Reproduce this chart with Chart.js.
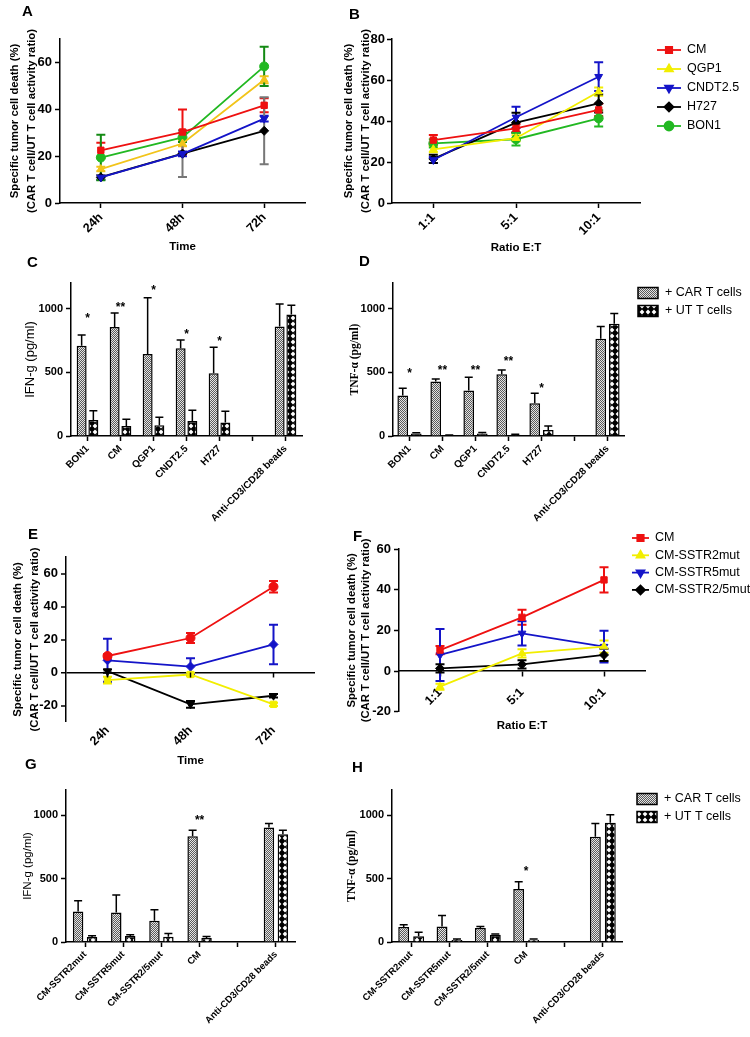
<!DOCTYPE html>
<html lang="en">
<head>
<meta charset="UTF-8">
<title>CAR T cell killing and cytokine release</title>
<script src="https://cdn.jsdelivr.net/npm/chart.js"></script>
<style>
    body { margin: 0; background: #fff; }
    .fig { position: relative; width: 750px; height: 1037px; overflow: hidden; background: #fff; }
    .fig canvas { position: absolute; }
    .tag { position: absolute; font: bold 15px "Liberation Sans", Arial, sans-serif; line-height: 1; color: #000; }
</style>
</head>
<body>
<div class="fig">
    <canvas id="chartA" width="330" height="255" style="left:0px;top:0px"></canvas>
    <canvas id="chartB" width="412" height="255" style="left:338px;top:0px"></canvas>
    <canvas id="chartC" width="290" height="270" style="left:20px;top:255px"></canvas>
    <canvas id="chartD" width="405" height="270" style="left:345px;top:255px"></canvas>
    <canvas id="chartE" width="330" height="245" style="left:0px;top:525px"></canvas>
    <canvas id="chartF" width="412" height="245" style="left:338px;top:525px"></canvas>
    <canvas id="chartG" width="300" height="262" style="left:18px;top:775px"></canvas>
    <canvas id="chartH" width="408" height="262" style="left:342px;top:775px"></canvas>
    <div class="tag" style="left:22px;top:3px">A</div>
    <div class="tag" style="left:349px;top:6px">B</div>
    <div class="tag" style="left:27px;top:254px">C</div>
    <div class="tag" style="left:359px;top:253px">D</div>
    <div class="tag" style="left:28px;top:526px">E</div>
    <div class="tag" style="left:353px;top:528px">F</div>
    <div class="tag" style="left:25px;top:756px">G</div>
    <div class="tag" style="left:352px;top:759px">H</div>
</div>
<script>
    const FONT = '"Liberation Sans", Arial, Helvetica, sans-serif';
    const SERIF = '"Liberation Serif", "Times New Roman", serif';

    // ---- labels and ticks ----
    const timeLabels = ['24h', '48h', '72h'];
    const ratioLabels = ['1:1', '5:1', '10:1'];
    const cellLines = ['BON1', 'CM', 'QGP1', 'CNDT2.5', 'H727', '', 'Anti-CD3/CD28 beads'];
    const mutLines = ['CM-SSTR2mut', 'CM-SSTR5mut', 'CM-SSTR2/5mut', 'CM', '', 'Anti-CD3/CD28 beads'];
    const killTitleText = ['Specific tumor cell death (%)', '(CAR T cell/UT T cell activity ratio)'];
    const ticksA = [0, 20, 40, 60];
    const ticksB = [0, 20, 40, 60, 80];
    const ticksEF = [-20, 0, 20, 40, 60];
    const ticksCyto = [0, 500, 1000];

    // ---- A: killing vs time, per cell line (mean, +/- error) ----
    const aCM = [22.5, 30.3, 41.7],   aCMErr = [3.2, 9.6, 3.0];
    const aQGP1 = [14.5, 25.4, 52.6], aQGP1Err = [1.0, 1.2, 1.5];
    const aCNDT = [10.9, 21.0, 36.0], aCNDTErr = [1.0, 1.0, 1.2];
    const aH727 = [11.0, 21.1, 30.8], aH727Err = [1.0, 10.0, 14.3];
    const aBON1 = [19.4, 28.0, 58.3], aBON1Err = [9.7, 2.0, 8.4];

    // ---- B: killing vs E:T ratio ----
    const bCM = [30.7, 36.4, 45.4],   bCMErr = [2.5, 2.0, 3.0];
    const bQGP1 = [26.2, 31.6, 54.3], bQGP1Err = [1.5, 1.5, 2.0];
    const bCNDT = [21.0, 41.8, 61.6], bCNDTErr = [1.5, 5.2, 7.0];
    const bH727 = [21.5, 39.2, 48.6], bH727Err = [2.0, 4.8, 4.4];
    const bBON1 = [29.1, 31.1, 41.3], bBON1Err = [2.0, 3.0, 4.0];

    // ---- C: IFN-g per cell line ----
    const cIfnCar = [707, 854, 644, 688, 492, null, 858], cIfnCarErr = [86, 110, 440, 64, 204, null, 178];
    const cIfnUt = [126, 79, 84, 118, 105, null, 953],    cIfnUtErr = [73, 52, 63, 84, 89, null, 73];
    const cSig = ['*', '**', '*', '*', '*', '', ''],      cSigAt = [950, 1037, 1170, 827, 770, null, null];

    // ---- D: TNF-a per cell line ----
    const dTnfCar = [317, 427, 356, 484, 257, null, 762], dTnfCarErr = [58, 21, 105, 34, 78, null, 97];
    const dTnfUt = [20, 5, 20, 10, 47, null, 880],        dTnfUtErr = [5, 3, 8, 4, 31, null, 80];
    const dSig = ['*', '**', '**', '**', '*', '', ''],    dSigAt = [518, 545, 545, 610, 400, null, null];

    // ---- E: SSTR mutants vs time ----
    const eCM = [10.0, 20.9, 52.0],      eCMErr = [1.0, 3.0, 3.5];
    const eSSTR2 = [-4.6, -1.2, -19.3],  eSSTR2Err = [2.0, 1.0, 1.0];
    const eSSTR5 = [7.4, 3.6, 17.0],     eSSTR5Err = [13.0, 5.0, 12.0];
    const eSSTR25 = [0.8, -19.3, -14.1], eSSTR25Err = [1.0, 2.0, 1.0];

    // ---- F: SSTR mutants vs E:T ratio ----
    const fCM = [10.3, 26.4, 44.8],     fCMErr = [2.0, 3.7, 6.2];
    const fSSTR2 = [-7.7, 8.7, 12.0],   fSSTR2Err = [1.5, 2.0, 3.0];
    const fSSTR5 = [7.9, 18.5, 12.0],   fSSTR5Err = [12.8, 6.0, 7.8];
    const fSSTR25 = [1.3, 3.3, 7.9],    fSSTR25Err = [2.0, 2.0, 3.0];

    // ---- G: IFN-g, SSTR mutants ----
    const gIfnCar = [241, 233, 168, 835, null, 903], gIfnCarErr = [84, 139, 86, 47, null, 32];
    const gIfnUt = [40, 48, 42, 31, null, 851],      gIfnUtErr = [10, 10, 26, 12, null, 31];
    const gSig = ['', '', '', '**', '', ''],          gSigAt = [null, null, null, 987, null, null];

    // ---- H: TNF-a, SSTR mutants ----
    const hTnfCar = [118, 123, 110, 419, null, 830], hTnfCarErr = [18, 86, 13, 57, null, 105];
    const hTnfUt = [45, 15, 58, 18, null, 942],      hTnfUtErr = [31, 9, 5, 6, null, 63];
    const hSig = ['', '', '', '*', '', ''],           hSigAt = [null, null, null, 586, null, null];

    const RED = '#ee1111', GOLD = '#f2c41a', YELLOW = '#f2ee00', BLUE = '#1414c8';
    const GREEN = '#22b822', DKGREEN = '#138a13', BLACK = '#000000', GREY = '#777777';

    Chart.defaults.font.family = FONT;
    Chart.defaults.color = '#000';
    Chart.defaults.animation = false;
    Chart.defaults.responsive = false;
    Chart.defaults.plugins.legend.display = false;
    Chart.defaults.plugins.tooltip.enabled = false;

    // bar fills
    function carFill() {
        const c = document.createElement('canvas');
        c.width = 4; c.height = 4;
        const g = c.getContext('2d');
        g.fillStyle = '#e4e4e4';
        g.fillRect(0, 0, 4, 4);
        g.fillStyle = '#5a5a5a';
        for (let x = 0; x < 4; x++) for (let y = 0; y < 4; y++) if ((x + y) % 2 === 0) g.fillRect(x, y, 1, 1);
        return g.createPattern(c, 'repeat');
    }
    function utFill() {
        const c = document.createElement('canvas');
        c.width = 6; c.height = 6;
        const g = c.getContext('2d');
        g.fillStyle = '#000';
        g.fillRect(0, 0, 6, 6);
        g.fillStyle = '#fff';
        g.beginPath();
        g.moveTo(3, 0.6); g.lineTo(5.4, 3); g.lineTo(3, 5.4); g.lineTo(0.6, 3);
        g.closePath();
        g.fill();
        return g.createPattern(c, 'repeat');
    }
    const CAR_FILL = carFill();
    const UT_FILL = utFill();

    // error bars: lines get both whiskers (under the markers), bars only the upper one
    function drawErrors(chart, type) {
        const ctx = chart.ctx;
        const y = chart.scales.y;
        chart.data.datasets.forEach((ds, i) => {
            const meta = chart.getDatasetMeta(i);
            if (meta.type !== type || !ds.errors) return;
            ctx.save();
            ctx.strokeStyle = ds.errColor || '#000';
            ctx.lineWidth = type === 'bar' ? 1.5 : 2;
            const cap = type === 'bar' ? 4 : 4.5;
            meta.data.forEach((el, j) => {
                const v = ds.data[j], e = ds.errors[j];
                if (v == null || e == null) return;
                const top = y.getPixelForValue(v + e);
                const bot = y.getPixelForValue(type === 'bar' ? v : v - e);
                ctx.beginPath();
                ctx.moveTo(el.x, top); ctx.lineTo(el.x, bot);
                ctx.moveTo(el.x - cap, top); ctx.lineTo(el.x + cap, top);
                if (type === 'line') { ctx.moveTo(el.x - cap, bot); ctx.lineTo(el.x + cap, bot); }
                ctx.stroke();
            });
            ctx.restore();
        });
    }
    const errorBars = {
        id: 'errorBars',
        beforeDatasetsDraw(chart) { drawErrors(chart, 'line'); },
        afterDatasetsDraw(chart) { drawErrors(chart, 'bar'); }
    };

    // small tick marks under the zero line (panel E)
    const zeroTicks = {
        id: 'zeroTicks',
        afterDraw(chart) {
            const ctx = chart.ctx;
            const y0 = chart.scales.y.getPixelForValue(0);
            ctx.save();
            ctx.strokeStyle = '#000';
            ctx.lineWidth = 1.5;
            chart.data.labels.forEach((l, i) => {
                const x = chart.scales.x.getPixelForValue(i);
                ctx.beginPath();
                ctx.moveTo(x, y0); ctx.lineTo(x, y0 + 5);
                ctx.stroke();
            });
            ctx.restore();
        }
    };

    function sigMarks(marks, at) {
        return {
            id: 'sigMarks',
            afterDatasetsDraw(chart) {
                const ctx = chart.ctx;
                ctx.save();
                ctx.fillStyle = '#000';
                ctx.font = 'bold 12px ' + FONT;
                ctx.textAlign = 'center';
                ctx.textBaseline = 'alphabetic';
                marks.forEach((m, i) => {
                    if (!m) return;
                    const x = chart.scales.x.getPixelForValue(i);
                    ctx.fillText(m, x, chart.scales.y.getPixelForValue(at[i]) + 7);
                });
                ctx.restore();
            }
        };
    }

    function marker(ctx, ds, x, y) {
        const h = Chart.helpers;
        if (h && h.drawPoint) {
            h.drawPoint(ctx, { pointStyle: ds.pointStyle, rotation: ds.pointRotation || 0, radius: ds.pointRadius, borderWidth: 1 }, x, y);
        } else {
            ctx.beginPath();
            ctx.arc(x, y, 3.5, 0, Math.PI * 2);
            ctx.fill();
        }
    }

    function lineLegend(o) {
        return {
            id: 'lineLegend',
            afterDraw(chart) {
                const ctx = chart.ctx;
                chart.data.datasets.forEach((ds, i) => {
                    const y = o.y + i * o.gap;
                    ctx.save();
                    ctx.strokeStyle = ds.borderColor;
                    ctx.fillStyle = ds.borderColor;
                    ctx.lineWidth = 1.8;
                    ctx.beginPath();
                    ctx.moveTo(o.x, y); ctx.lineTo(o.x + o.len, y);
                    ctx.stroke();
                    marker(ctx, ds, o.x + o.len / 2, y);
                    ctx.fillStyle = '#000';
                    ctx.font = o.font;
                    ctx.textBaseline = 'middle';
                    ctx.fillText(ds.label, o.x + o.len + o.pad, y);
                    ctx.restore();
                });
            }
        };
    }

    function barLegend(o) {
        return {
            id: 'barLegend',
            afterDraw(chart) {
                const ctx = chart.ctx;
                chart.data.datasets.forEach((ds, i) => {
                    const y = o.y + i * o.gap;
                    ctx.save();
                    ctx.fillStyle = ds.backgroundColor;
                    ctx.fillRect(o.x, y - 5.5, 20, 11);
                    ctx.strokeStyle = '#000';
                    ctx.lineWidth = 1.5;
                    ctx.strokeRect(o.x, y - 5.5, 20, 11);
                    ctx.fillStyle = '#000';
                    ctx.font = o.font;
                    ctx.textBaseline = 'middle';
                    ctx.fillText(ds.label, o.x + 27, y);
                    ctx.restore();
                });
            }
        };
    }

    function lineSet(label, data, errors, color, style, errColor, rotation) {
        return {
            label, data, errors, errColor: errColor || color,
            borderColor: color, backgroundColor: color, borderWidth: 1.8,
            pointStyle: style, pointRotation: rotation || 0, pointRadius: 4.5,
            pointBackgroundColor: color, pointBorderColor: color, pointBorderWidth: 1
        };
    }
    function barSet(label, data, errors, fill) {
        return { label, data, errors, backgroundColor: fill, borderColor: '#000', borderWidth: 1.5 };
    }

    function yAxis(o) {
        return {
            min: o.min, max: o.max,
            ticks: { color: '#000', padding: o.tickPad || 3, font: { family: FONT, size: o.tickSize || 13, weight: 'bold' }, callback: v => String(v) },
            afterBuildTicks: scale => { scale.ticks = o.ticks.map(v => ({ value: v })); },
            grid: Object.assign({ display: true, drawOnChartArea: false, color: '#000', tickColor: '#000', tickLength: 5, tickWidth: 1.5 }, o.grid),
            border: { display: true, color: '#000', width: 1.5 },
            title: o.title,
            afterFit: s => { s.width = o.width; }
        };
    }
    function xAxis(o) {
        const ax = {
            offset: true,
            ticks: { color: '#000', minRotation: 45, maxRotation: 45, autoSkip: false, padding: o.tickPad != null ? o.tickPad : 2, font: { family: FONT, size: o.tickSize || 12.5, weight: 'bold' } },
            grid: { display: !o.noLine, drawOnChartArea: false, offset: false, color: '#000', tickLength: o.noLine ? 0 : 5, tickWidth: 1.5 },
            border: { display: !o.noLine, color: '#000', width: 1.5 },
            title: o.title ? { display: true, text: o.title, color: '#000', padding: o.titlePad || 0, font: { family: FONT, size: 11.5, weight: 'bold', lineHeight: 1.2 } } : { display: false }
        };
        if (o.height) ax.afterFit = s => { s.height = o.height; };
        if (o.position) ax.position = o.position;
        return ax;
    }
    function killTitle(pad, lh) {
        return { display: true, text: killTitleText, color: '#000', padding: pad, font: { family: FONT, size: 11.3, weight: 'bold', lineHeight: lh || 1.5 } };
    }
    function cytoTitle(text, family, size, weight, pad) {
        return { display: true, text, color: '#000', padding: pad, font: { family, size, weight, lineHeight: 1.2 } };
    }

    // A
    new Chart(document.getElementById('chartA'), {
        type: 'line',
        data: { labels: timeLabels, datasets: [
            lineSet('CM', aCM, aCMErr, RED, 'rect'),
            lineSet('QGP1', aQGP1, aQGP1Err, GOLD, 'triangle'),
            lineSet('CNDT2.5', aCNDT, aCNDTErr, BLUE, 'triangle', null, 180),
            lineSet('H727', aH727, aH727Err, BLACK, 'rectRot', GREY),
            lineSet('BON1', aBON1, aBON1Err, GREEN, 'circle', DKGREEN)
        ]},
        options: {
            layout: { padding: { top: 39, right: 25, bottom: 0, left: 0 } },
            scales: {
                x: xAxis({ height: 52, title: 'Time', titlePad: 1 }),
                y: yAxis({ min: 0, max: 70, ticks: ticksA, width: 60, title: killTitle(6.5) })
            }
        },
        plugins: [errorBars]
    });

    // B
    new Chart(document.getElementById('chartB'), {
        type: 'line',
        data: { labels: ratioLabels, datasets: [
            lineSet('CM', bCM, bCMErr, RED, 'rect'),
            lineSet('QGP1', bQGP1, bQGP1Err, YELLOW, 'triangle'),
            lineSet('CNDT2.5', bCNDT, bCNDTErr, BLUE, 'triangle', null, 180),
            lineSet('H727', bH727, bH727Err, BLACK, 'rectRot'),
            lineSet('BON1', bBON1, bBON1Err, GREEN, 'circle')
        ]},
        options: {
            layout: { padding: { top: 39, right: 110, bottom: 0, left: 0 } },
            scales: {
                x: xAxis({ height: 52, title: 'Ratio E:T', titlePad: 0 }),
                y: yAxis({ min: 0, max: 80, ticks: ticksB, width: 54, tickPad: 2, title: killTitle(2) })
            }
        },
        plugins: [errorBars, lineLegend({ x: 319, y: 50, gap: 19, len: 24, pad: 6, font: '12.5px ' + FONT })]
    });

    // C
    new Chart(document.getElementById('chartC'), {
        type: 'bar',
        data: { labels: cellLines, datasets: [
            barSet('+ CAR T cells', cIfnCar, cIfnCarErr, CAR_FILL),
            barSet('+ UT T cells', cIfnUt, cIfnUtErr, UT_FILL)
        ]},
        options: {
            datasets: { bar: { categoryPercentage: 0.71, barPercentage: 0.85 } },
            layout: { padding: { top: 28, right: 8, bottom: 0, left: 0 } },
            scales: {
                x: xAxis({ height: 89, tickSize: 10 }),
                y: yAxis({ min: 0, max: 1200, ticks: ticksCyto, width: 51, tickSize: 11, title: cytoTitle('IFN-g (pg/ml)', FONT, 13, 'normal', 2.2) })
            }
        },
        plugins: [errorBars, sigMarks(cSig, cSigAt)]
    });

    // D
    new Chart(document.getElementById('chartD'), {
        type: 'bar',
        data: { labels: cellLines, datasets: [
            barSet('+ CAR T cells', dTnfCar, dTnfCarErr, CAR_FILL),
            barSet('+ UT T cells', dTnfUt, dTnfUtErr, UT_FILL)
        ]},
        options: {
            datasets: { bar: { categoryPercentage: 0.82, barPercentage: 0.79 } },
            layout: { padding: { top: 28, right: 126, bottom: 0, left: 0 } },
            scales: {
                x: xAxis({ height: 89, tickSize: 10 }),
                y: yAxis({ min: 0, max: 1200, ticks: ticksCyto, width: 48, tickSize: 11, title: cytoTitle('TNF-α (pg/ml)', SERIF, 11.5, 'bold', 3.1) })
            }
        },
        plugins: [errorBars, sigMarks(dSig, dSigAt), barLegend({ x: 293, y: 38, gap: 18, font: '12.5px ' + FONT })]
    });

    // E
    const zeroLine = {
        drawOnChartArea: true,
        color: c => (c.tick && c.tick.value === 0) ? '#000' : 'rgba(0,0,0,0)',
        lineWidth: c => (c.tick && c.tick.value === 0) ? 1.5 : 0
    };
    new Chart(document.getElementById('chartE'), {
        type: 'line',
        data: { labels: timeLabels, datasets: [
            lineSet('CM', eCM, eCMErr, RED, 'circle'),
            lineSet('CM-SSTR2mut', eSSTR2, eSSTR2Err, YELLOW, 'rect'),
            lineSet('CM-SSTR5mut', eSSTR5, eSSTR5Err, BLUE, 'rectRot'),
            lineSet('CM-SSTR2/5mut', eSSTR25, eSSTR25Err, BLACK, 'triangle', null, 180)
        ]},
        options: {
            layout: { padding: { top: 32, right: 15, bottom: 0, left: 0 } },
            scales: {
                x: xAxis({ height: 48, title: 'Time', titlePad: 2.5, noLine: true, tickPad: 1 }),
                y: yAxis({ min: -30, max: 70, ticks: ticksEF, width: 66, title: killTitle(9.5), grid: zeroLine })
            }
        },
        plugins: [errorBars, zeroTicks]
    });

    // F
    new Chart(document.getElementById('chartF'), {
        type: 'line',
        data: { labels: ratioLabels, datasets: [
            lineSet('CM', fCM, fCMErr, RED, 'rect'),
            lineSet('CM-SSTR2mut', fSSTR2, fSSTR2Err, YELLOW, 'triangle'),
            lineSet('CM-SSTR5mut', fSSTR5, fSSTR5Err, BLUE, 'triangle', null, 180),
            lineSet('CM-SSTR2/5mut', fSSTR25, fSSTR25Err, BLACK, 'rectRot')
        ]},
        options: {
            layout: { padding: { top: 24, right: 105, bottom: 58.3, left: 0 } },
            scales: {
                x: xAxis({ title: 'Ratio E:T', titlePad: -3, position: { y: 0 }, tickPad: 9 }),
                y: yAxis({ min: -20, max: 60, ticks: ticksEF, width: 61, title: killTitle(7, 1.24) })
            }
        },
        plugins: [errorBars, lineLegend({ x: 294, y: 13, gap: 17.3, len: 17, pad: 6, font: '12.5px ' + FONT })]
    });

    // G
    new Chart(document.getElementById('chartG'), {
        type: 'bar',
        data: { labels: mutLines, datasets: [
            barSet('+ CAR T cells', gIfnCar, gIfnCarErr, CAR_FILL),
            barSet('+ UT T cells', gIfnUt, gIfnUtErr, UT_FILL)
        ]},
        options: {
            datasets: { bar: { categoryPercentage: 0.73, barPercentage: 0.75 } },
            layout: { padding: { top: 15, right: 23, bottom: 0, left: 0 } },
            scales: {
                x: xAxis({ height: 95, tickSize: 9.5 }),
                y: yAxis({ min: 0, max: 1200, ticks: ticksCyto, width: 48, tickSize: 11, title: cytoTitle('IFN-g (pg/ml)', FONT, 11.5, 'normal', 3.1) })
            }
        },
        plugins: [errorBars, sigMarks(gSig, gSigAt)]
    });

    // H
    new Chart(document.getElementById('chartH'), {
        type: 'bar',
        data: { labels: mutLines, datasets: [
            barSet('+ CAR T cells', hTnfCar, hTnfCarErr, CAR_FILL),
            barSet('+ UT T cells', hTnfUt, hTnfUtErr, UT_FILL)
        ]},
        options: {
            datasets: { bar: { categoryPercentage: 0.78, barPercentage: 0.73 } },
            layout: { padding: { top: 15, right: 128, bottom: 0, left: 0 } },
            scales: {
                x: xAxis({ height: 95, tickSize: 9.5 }),
                y: yAxis({ min: 0, max: 1200, ticks: ticksCyto, width: 50, tickSize: 11, title: cytoTitle('TNF-α (pg/ml)', SERIF, 11.5, 'bold', 3.1) })
            }
        },
        plugins: [errorBars, sigMarks(hSig, hSigAt), barLegend({ x: 295, y: 24, gap: 18, font: '12.5px ' + FONT })]
    });
</script>
</body>
</html>
